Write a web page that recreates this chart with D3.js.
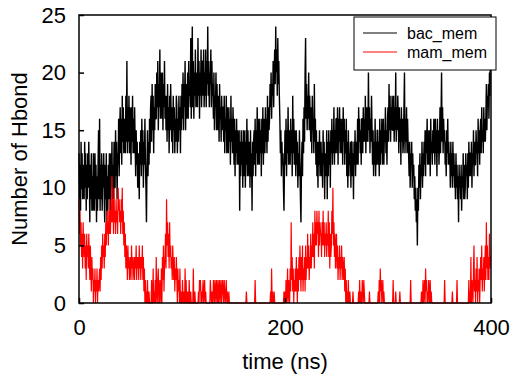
<!DOCTYPE html>
<html>
<head>
  <meta charset="utf-8">
  <script src="https://d3js.org/d3.v7.min.js"></script>
  <style>
    body { margin: 0; background: #fff; }
    text { font-family: "Liberation Sans", Arial, sans-serif; }
  </style>
</head>
<body>
  <svg id="chart" width="512" height="378"></svg>

  <script>
    // hydrogen bond counts, one frame every 0.5 ns (0..400 ns), 10 frames per row
    const bacMem = [
      13,9,12,8,14,10,13,9,12,10,  9,14,10,13,8,12,9,13,10,14,
      11,7,12,9,13,8,11,8,13,9,  8,13,9,12,7,11,8,12,15,9,
      16,8,12,9,13,8,12,10,13,9,  7,12,9,13,7,11,8,12,9,13,
      12,8,13,10,14,9,12,9,14,10,  10,15,11,14,9,13,12,16,11,15,
      17,13,16,12,18,14,17,13,16,14,  13,18,14,21,13,17,14,18,13,17,
      16,12,17,14,18,13,16,13,17,14,  11,15,12,14,10,13,12,9,14,12,
      15,11,16,12,15,10,14,12,16,12,  10,7,12,15,11,14,12,16,13,17,
      18,14,19,15,18,13,17,15,19,16,  16,20,17,21,15,19,17,22,16,20,
      19,16,20,15,19,17,21,16,18,15,  18,14,19,15,17,13,18,15,19,16,
      14,17,13,18,15,17,13,16,14,18,  17,13,16,14,18,15,17,13,18,15,
      19,16,20,15,19,17,21,15,19,16,  17,20,16,21,18,19,17,23,16,20,
      24,17,21,16,20,18,22,17,20,18,  17,23,18,21,16,20,18,22,17,21,
      21,18,22,17,20,18,22,17,21,19,  24,18,21,17,20,19,22,17,21,18,
      19,16,20,15,18,17,20,15,19,16,  15,18,14,19,16,17,14,18,15,17,
      17,14,18,13,16,15,18,13,17,14,  13,17,14,16,12,18,14,16,13,17,
      15,12,16,11,15,13,16,12,15,13,  12,15,8,14,11,15,12,14,10,15,
      14,11,15,10,14,12,16,11,15,12,  11,14,10,15,11,13,8,14,11,14,
      15,12,16,11,15,13,17,12,16,13,  12,16,13,15,11,16,13,17,12,15,
      16,13,17,14,16,13,18,14,17,15,  16,19,17,20,16,19,18,21,17,20,
      22,19,24,20,22,18,23,19,21,18,  16,13,15,11,14,12,13,10,8,12,
      15,12,16,11,15,13,17,12,15,13,  12,16,13,15,11,18,13,16,12,15,
      14,11,15,12,14,10,13,11,15,12,  9,7,12,14,11,16,13,17,14,20,
      23,16,19,15,18,16,20,15,18,16,  14,17,13,18,15,16,13,19,14,16,
      12,15,11,14,10,14,12,15,11,13,  14,11,13,10,15,12,14,9,13,11,
      12,15,9,14,11,15,12,14,10,15,  13,16,12,15,13,17,12,15,13,16,
      16,13,17,12,16,14,17,13,16,14,  13,16,12,17,14,16,12,15,13,16,
      11,14,10,15,11,13,12,14,10,14,  14,11,13,9,14,12,15,11,14,12,
      13,16,12,17,14,16,13,15,12,16,  16,13,17,14,16,14,18,13,17,14,
      17,14,20,15,17,13,16,14,18,15,  12,15,11,14,12,16,11,14,12,15,
      15,12,14,11,16,12,15,13,16,12,  13,16,12,15,14,17,13,15,12,16,
      17,14,19,15,18,14,17,15,18,15,  15,18,14,17,15,20,14,17,15,18,
      16,13,17,14,16,12,17,14,16,13,  14,17,20,13,16,14,17,13,16,14,
      13,11,14,10,13,12,14,10,13,11,  12,9,11,8,10,7,9,5,10,8,
      12,10,13,9,12,11,14,10,13,11,  14,12,15,11,15,13,16,12,15,13,
      12,15,11,16,13,14,12,15,13,16,  15,12,16,13,15,11,16,13,15,12,
      14,17,13,16,20,14,17,13,16,14,  15,12,14,11,15,13,16,12,14,12,
      13,10,14,11,13,10,14,11,13,10,  12,9,13,10,12,9,11,7,12,10,
      11,9,12,8,11,10,13,9,12,9,  10,13,11,12,9,13,10,14,11,13,
      13,11,14,10,13,12,15,11,14,12,  12,15,13,14,11,16,13,15,12,15,
      16,13,17,14,15,13,17,14,16,14,  16,19,15,18,17,19,16,20,18,23,
      21
    ];
    const mamMem = [
      9,6,8,5,7,4,6,3,7,5,  4,6,3,5,2,6,4,5,3,6,
      4,2,5,3,1,4,2,3,0,2,  1,3,0,2,1,3,0,2,1,2,
      3,1,4,2,5,3,6,4,5,3,  6,4,7,5,8,6,7,5,8,6,
      9,6,8,7,11,7,9,6,10,7,  8,6,9,7,8,6,10,8,9,7,
      8,6,9,7,10,6,8,5,7,4,  6,3,5,4,2,5,3,4,2,3,
      4,2,5,3,4,2,3,4,2,4,  3,5,2,4,3,4,2,5,3,4,
      2,4,3,5,2,4,1,3,0,2,  0,1,0,2,0,0,1,0,0,0,
      0,2,0,0,3,0,1,0,2,0,  4,1,0,2,3,0,0,2,1,0,
      3,0,4,2,5,1,3,4,6,3,  9,5,7,4,6,3,7,4,5,3,
      4,2,5,3,2,4,1,3,2,4,  2,0,3,1,2,0,3,0,1,0,
      0,2,0,1,0,0,3,0,2,0,  0,1,0,0,2,0,0,1,0,0,
      0,0,3,0,0,1,0,0,0,0,  0,0,1,0,2,1,2,0,1,0,
      1,2,0,1,2,0,1,0,0,0,  0,0,0,0,0,2,1,0,1,0,
      0,2,1,0,2,1,0,2,1,0,  2,0,1,2,0,1,2,0,1,2,
      1,0,2,1,0,1,2,0,1,0,  0,1,0,0,0,0,0,0,0,0,
      0,0,0,0,0,0,0,0,0,0,  0,0,0,0,0,0,0,0,0,0,
      0,0,0,0,0,1,0,0,0,0,  0,0,0,0,0,0,0,0,0,0,
      0,0,2,0,0,0,0,0,0,0,  0,0,0,0,0,0,0,0,0,0,
      0,0,0,0,0,0,0,0,0,0,  0,0,1,0,3,0,1,0,0,1,
      0,0,0,0,0,0,0,0,0,0,  0,0,0,0,0,0,0,0,1,0,
      1,0,2,0,1,3,0,2,1,0,  3,1,7,2,4,1,3,0,2,1,
      3,1,4,2,0,3,1,4,2,5,  3,1,4,2,5,1,3,2,4,1,
      5,2,4,3,6,3,5,2,4,3,  6,3,5,4,7,4,6,3,8,5,
      7,5,8,6,7,4,8,5,7,6,  6,4,7,5,8,5,7,4,6,5,
      7,4,6,5,8,4,7,3,6,4,  5,8,6,10,5,7,4,6,3,5,
      6,3,5,2,4,3,5,2,4,3,  5,2,4,3,2,4,1,3,0,2,
      0,1,0,2,0,0,1,0,0,0,  0,0,1,0,0,0,0,0,0,0,
      0,0,0,1,0,2,0,1,0,0,  2,1,0,2,1,0,0,0,0,0,
      0,0,0,0,1,0,0,0,0,0,  0,0,0,0,0,0,0,0,0,0,
      0,1,0,2,0,3,1,2,0,1,  2,0,1,0,0,0,0,0,0,0,
      0,0,0,0,0,0,0,0,0,0,  2,0,0,0,0,1,0,0,0,0,
      0,0,0,1,0,0,0,0,0,0,  0,0,0,0,0,0,0,0,0,0,
      0,0,0,0,2,0,0,0,0,0,  0,0,0,0,0,0,0,0,0,0,
      0,0,0,0,0,1,0,0,2,0,  1,2,0,3,1,2,0,1,0,2,
      1,0,2,0,1,0,0,0,0,0,  0,0,0,0,0,0,0,0,0,0,
      0,0,0,0,0,0,0,0,0,0,  2,0,0,0,0,0,0,0,0,0,
      0,0,0,0,0,1,0,0,0,0,  0,0,0,0,2,0,0,0,0,0,
      0,0,0,0,0,0,0,0,0,0,  0,0,0,0,0,0,0,2,0,1,
      0,4,0,2,1,0,3,5,1,2,  0,3,1,4,0,2,1,3,0,2,
      4,2,5,1,3,2,4,1,3,5,  2,7,3,5,2,4,2,6,3,4,
      4
    ];
    const tEnd = 400;
    const xTicks = [0, 200, 400];
    const yTicks = [0, 5, 10, 15, 20, 25];
    const seriesNames = ["bac_mem", "mam_mem"];
    const seriesColors = ["#000000", "#ff0000"];
    const seriesWidths = [1.4, 1.2];

    const margin = { top: 15, right: 21, bottom: 75, left: 79 };
    const width = 512, height = 378;
    const svg = d3.select("#chart");

    const x = d3.scaleLinear().domain([0, tEnd]).range([margin.left, width - margin.right]);
    const y = d3.scaleLinear().domain([0, 25]).range([height - margin.bottom, margin.top]);

    // frames are evenly spaced over 0..tEnd
    const lineFor = s => d3.line()
      .x((d, i) => x(i * tEnd / (s.length - 1)))
      .y(d => y(d));

    [bacMem, mamMem].forEach((s, k) => {
      svg.append("path")
        .datum(s)
        .attr("fill", "none")
        .attr("stroke", seriesColors[k])
        .attr("stroke-width", seriesWidths[k])
        .attr("stroke-linejoin", "bevel")
        .attr("d", lineFor(s));
    });

    // axes, ticks point inward
    const xAxis = svg.append("g")
      .attr("transform", `translate(0,${height - margin.bottom})`)
      .call(d3.axisBottom(x).tickValues(xTicks).tickSizeInner(-5).tickSizeOuter(0).tickPadding(16));
    const yAxis = svg.append("g")
      .attr("transform", `translate(${margin.left},0)`)
      .call(d3.axisLeft(y).tickValues(yTicks).tickSizeInner(-5).tickSizeOuter(0).tickPadding(13));

    [xAxis, yAxis].forEach(g => {
      g.select(".domain").remove();
      g.selectAll("line").attr("stroke", "#000").attr("stroke-width", 1.5);
      g.selectAll("text").attr("font-size", 22).attr("fill", "#000")
        .attr("font-family", "'Liberation Sans', Arial, sans-serif");
    });

    // plot frame
    svg.append("rect")
      .attr("x", x(0))
      .attr("y", y(25))
      .attr("width", x(tEnd) - x(0))
      .attr("height", y(0) - y(25))
      .attr("fill", "none")
      .attr("stroke", "#000")
      .attr("stroke-width", 1.5);

    // axis titles
    svg.append("text")
      .attr("x", (x(0) + x(tEnd)) / 2)
      .attr("y", 369)
      .attr("text-anchor", "middle")
      .attr("font-size", 22)
      .text("time (ns)");

    svg.append("text")
      .attr("transform", `translate(27,${(y(0) + y(25)) / 2}) rotate(-90)`)
      .attr("text-anchor", "middle")
      .attr("font-size", 22)
      .text("Number of Hbond");

    // legend
    const legend = svg.append("g").attr("transform", "translate(354,17)");
    legend.append("rect")
      .attr("width", 142)
      .attr("height", 53)
      .attr("fill", "#fff")
      .attr("stroke", "#000")
      .attr("stroke-width", 1);
    seriesNames.forEach((name, i) => {
      legend.append("line")
        .attr("x1", 9).attr("x2", 43)
        .attr("y1", 16 + i * 19).attr("y2", 16 + i * 19)
        .attr("stroke", seriesColors[i])
        .attr("stroke-width", 1);
      legend.append("text")
        .attr("x", 53)
        .attr("y", 22 + i * 19)
        .attr("font-size", 16)
        .text(name);
    });
  </script>
</body>
</html>
